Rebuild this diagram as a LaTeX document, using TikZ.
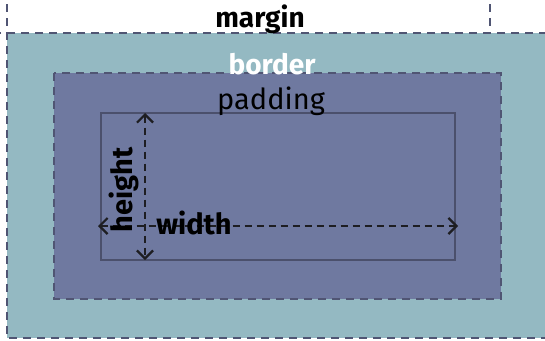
\documentclass[tikz,border=0pt]{standalone}
\usepackage{fontspec}
\setmainfont{Fira Sans}
\usetikzlibrary{arrows.meta,positioning}
\definecolor{borderfill}{RGB}{148,185,194}
\definecolor{paddingfill}{RGB}{111,121,160}
\definecolor{edgeline}{RGB}{80,85,115}
\definecolor{contentline}{RGB}{75,80,108}
\definecolor{measureline}{RGB}{30,30,34}
\tikzset{box edge/.style={draw=edgeline,line width=2.4pt,dash pattern=on 8pt off 6pt},
         measure/.style={draw=measureline,line width=2.2pt,dash pattern=on 7pt off 5pt,
                         {Straight Barb[length=8pt,width=16pt,line width=2.2pt]}-{Straight Barb[length=8pt,width=16pt,line width=2.2pt]}},
         box label/.style={font=\fontsize{29}{34}\selectfont,inner sep=0pt},
         measure label/.style={font=\fontsize{29}{34}\selectfont\bfseries,inner sep=0pt,text=black}
}
\begin{document}
\begin{tikzpicture}[x=1pt,y=-1pt]
\useasboundingbox (0,0) rectangle (545,340);
\clip (0,0) rectangle (545,340);
% margin
\draw[box edge] (490,-10) -- (490,33) -- (-10,33);
% border
\fill[borderfill] (7,33) rectangle (560,338);
\draw[box edge] (7,-10) -- (7,338) -- (560,338);
\draw[box edge] (7,33) -- (560,33);
% padding
\draw[box edge,fill=paddingfill] (54,73) rectangle (501,299);
% content
\draw[contentline,line width=1.8pt] (101,113) rectangle (455,260);
\node[box label,font=\fontsize{28}{34}\selectfont\bfseries] (margin) at (260,19) {margin};
\node[box label,font=\fontsize{28}{34}\selectfont\bfseries,text=white] (border) at (272,64) {border};
\node[box label] (padding) at (271,101) {padding};
% measures
\coordinate (htop) at (145,113);
\coordinate (hbot) at (145,260);
\coordinate (wleft) at (98,226);
\coordinate (wright) at (458,226);
\draw[measure] (htop) -- (hbot);
\draw[measure] (wleft) -- (wright);
\node[measure label,rotate=90] (height) at (124,190) {height};
\node[measure label] (width) at (194,223) {width};
\end{tikzpicture}
\end{document}
